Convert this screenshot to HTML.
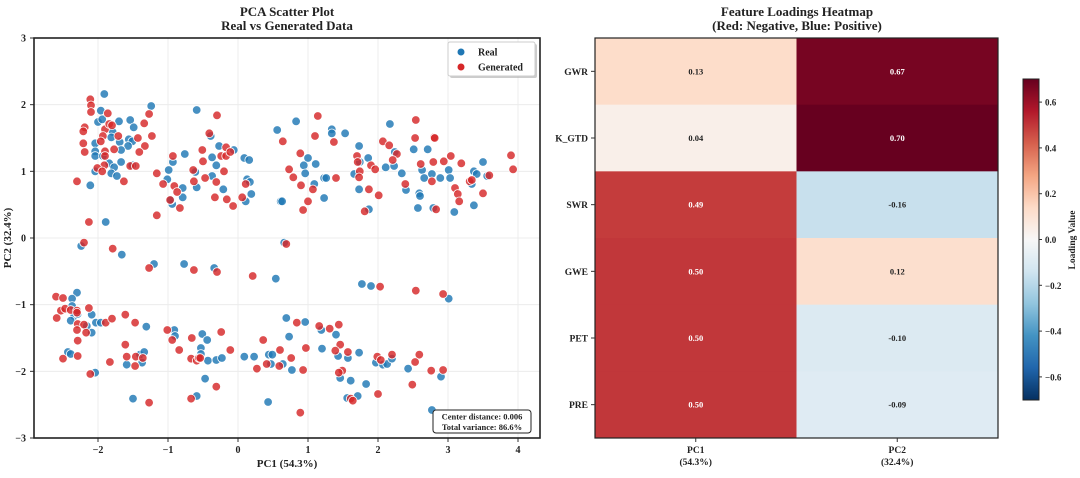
<!DOCTYPE html>
<html><head><meta charset="utf-8">
<style>
body{margin:0;background:#fff;font-family:"Liberation Serif",serif;}
svg text{font-family:"Liberation Serif",serif;font-weight:bold;fill:#222;}
</style></head>
<body>
<svg id="chart" width="1080" height="473" viewBox="0 0 1080 473" xmlns="http://www.w3.org/2000/svg">
<g id="scatter"></g>
<g id="heat"></g>
</svg>
<script>
const realX=[-1.91,-1.96,-2.00,-1.94,-1.70,-1.54,-1.49,-1.24,-0.59,-1.79,-1.81,-1.69,-1.56,-1.51,-1.57,-1.67,-2.04,-2.04,-2.04,-1.93,-1.84,-1.77,-1.67,-1.51,-2.04,-1.81,-1.73,-2.11,-1.89,-2.24,-0.93,-0.76,-0.99,-1.01,-0.79,-0.79,-0.94,-0.96,-0.59,-0.61,-0.37,-0.31,-0.27,-0.39,-0.37,-0.21,-0.06,0.09,0.16,0.13,0.17,0.19,0.11,0.56,0.61,
0.83,1.34,1.34,1.53,1.00,0.94,1.11,0.96,1.23,1.26,1.09,1.23,0.63,1.73,1.86,1.74,1.66,1.73,1.87,2.17,2.24,2.11,2.23,2.34,2.40,2.51,2.71,2.63,2.66,2.77,2.89,3.01,3.03,2.59,2.60,2.57,2.79,3.09,3.50,3.37,3.41,3.34,3.56,3.37,0.66,
-1.66,-1.20,-0.77,-0.34,0.54,-2.30,-2.37,-2.37,-2.34,-2.29,-2.39,-2.09,-2.16,-2.09,-2.03,-1.96,-1.31,-2.43,-2.39,-2.04,-1.59,-1.40,-1.34,-1.37,-0.91,-0.90,-0.51,-0.44,-0.53,-0.53,-0.43,-0.31,-0.23,-0.47,-0.59,-1.50,0.09,0.23,0.44,0.49,0.47,0.43,
1.77,1.90,3.01,0.69,0.96,1.19,1.40,0.73,1.20,1.43,1.57,1.73,0.64,0.77,1.46,1.61,1.83,1.97,2.07,2.13,2.20,2.43,2.90,1.71,1.56,2.77];
const realY=[2.16,1.91,1.74,1.78,1.75,1.77,1.66,1.98,1.92,1.59,1.51,1.44,1.48,1.45,1.38,1.32,1.42,1.30,1.23,1.23,1.12,1.06,1.14,1.09,1.00,0.97,0.93,0.79,0.24,-0.12,1.14,1.26,1.02,0.88,0.75,0.61,0.51,0.57,0.76,0.99,1.21,1.09,1.38,1.53,0.93,0.73,1.32,1.20,1.17,0.88,0.84,0.66,0.55,1.62,0.55,
1.75,1.63,1.57,1.57,1.20,1.09,1.11,0.97,0.90,0.90,0.81,0.60,0.55,1.38,1.20,1.14,0.96,0.73,0.43,1.71,1.29,1.06,1.08,0.97,0.72,1.33,1.33,1.02,0.90,0.96,0.90,1.02,0.90,0.67,0.63,0.45,0.45,0.39,1.14,1.00,0.96,0.81,0.93,0.49,-0.07,
-0.25,-0.39,-0.39,-0.45,-0.61,-0.82,-0.91,-1.02,-1.17,-1.14,-1.24,-1.15,-1.32,-1.42,-1.27,-1.27,-1.33,-1.71,-1.74,-2.02,-1.90,-1.75,-1.71,-1.87,-1.38,-1.47,-1.44,-1.53,-1.65,-1.74,-1.84,-1.83,-1.80,-2.11,-2.37,-2.41,-1.78,-1.78,-1.75,-1.75,-1.89,-2.46,
-0.69,-0.72,-0.91,-1.20,-1.26,-1.38,-1.45,-1.48,-1.66,-1.77,-1.80,-1.72,-1.89,-1.98,-2.10,-2.14,-2.19,-1.87,-1.90,-1.89,-1.81,-1.96,-2.08,-2.37,-2.40,-2.58];
const genX=[-2.11,-2.10,-2.10,-1.86,-2.19,-2.21,-1.90,-1.84,-1.80,-1.93,-1.96,-2.21,-2.19,-1.90,-1.90,-1.77,-1.71,-1.43,-1.34,-1.27,-1.23,-1.33,-1.41,-1.54,-1.46,-1.91,-2.01,-1.94,-1.63,-2.30,-2.13,-2.20,-1.79,-1.16,-1.07,-0.93,-0.91,-0.87,-0.97,-0.83,-1.16,-0.64,-0.63,-0.51,-0.50,-0.47,-0.41,-0.30,-0.31,-0.33,-0.24,-0.17,-0.17,-0.11,-0.20,-0.16,-0.07,0.06,0.11,0.64,
1.14,1.10,1.37,0.89,0.73,0.79,0.90,1.07,1.00,0.93,1.40,1.70,1.71,1.74,1.73,1.90,1.96,1.87,2.01,1.81,2.07,2.16,2.27,2.21,2.39,2.54,2.53,2.80,2.81,2.61,2.79,2.94,3.04,3.19,2.77,3.10,3.14,3.16,2.83,3.31,3.34,3.59,3.50,3.90,3.93,0.69,
-1.27,-0.63,-0.30,0.21,-2.60,-2.50,-2.53,-2.47,-2.59,-2.39,-2.30,-2.30,-2.13,-2.29,-2.20,-2.17,-2.30,-2.29,-2.29,-2.50,-2.11,-1.89,-1.80,-1.61,-1.47,-1.61,-1.59,-1.46,-1.47,-1.36,-1.83,-1.27,-1.01,-0.94,-0.84,-0.66,-0.67,-0.59,-0.56,-0.54,-0.24,-0.11,-0.31,-0.67,0.36,0.41,0.27,0.59,0.60,
2.03,2.54,2.93,0.84,1.16,1.31,1.44,1.46,1.39,1.57,0.97,0.76,0.93,1.49,1.44,1.99,2.04,2.20,2.59,2.53,2.76,2.93,2.49,2.00,1.61,1.64,0.89];
const genY=[2.08,1.99,1.89,1.87,1.66,1.60,1.63,1.71,1.69,1.53,1.45,1.42,1.29,1.30,1.23,1.33,1.53,1.50,1.72,1.86,1.53,1.38,1.29,1.08,1.08,1.09,1.05,1.00,0.85,0.85,0.24,-0.07,-0.16,0.97,0.81,1.23,0.78,0.69,0.57,0.45,0.34,1.02,0.85,1.32,1.15,0.90,1.57,1.84,0.84,0.61,1.23,1.36,1.23,1.29,1.00,0.58,0.48,0.61,0.81,1.45,
1.83,1.53,1.44,1.27,1.03,0.91,0.79,0.73,0.55,0.42,0.90,1.23,1.14,1.00,0.91,1.09,1.03,0.73,0.64,0.40,1.45,1.39,1.26,1.17,0.81,1.77,1.50,1.51,1.50,1.11,1.14,1.15,1.23,1.12,0.85,0.75,0.66,0.55,0.43,0.85,0.87,0.94,0.67,1.24,1.03,-0.09,
-0.45,-0.48,-0.51,-0.57,-0.88,-0.90,-1.09,-1.06,-1.20,-1.08,-1.09,-1.12,-1.05,-1.29,-1.30,-1.42,-1.38,-1.54,-1.77,-1.81,-2.04,-1.27,-1.21,-1.15,-1.27,-1.60,-1.78,-1.78,-1.92,-1.80,-1.86,-2.47,-1.38,-1.53,-1.68,-1.50,-1.81,-1.84,-1.80,-1.80,-1.41,-1.68,-2.23,-2.41,-1.53,-1.89,-1.96,-1.92,-1.68,
-0.73,-0.79,-0.84,-1.27,-1.32,-1.36,-1.30,-1.60,-1.69,-1.71,-1.65,-1.80,-1.98,-1.99,-2.02,-1.78,-1.83,-1.75,-1.75,-1.86,-1.99,-1.98,-2.20,-2.34,-2.41,-2.44,-2.62];
const xTicks=[-2,-1,0,1,2,3,4];
const yTicks=[-3,-2,-1,0,1,2,3];
const features=["GWR","K_GTD","SWR","GWE","PET","PRE"];
const pcLabels=["PC1","PC2"];
const pcVar=["(54.3%)","(32.4%)"];
const pc1Load=[0.13,0.04,0.49,0.50,0.50,0.50];
const pc2Load=[0.67,0.70,-0.16,0.12,-0.10,-0.09];
const cbTicks=[-0.6,-0.4,-0.2,0.0,0.2,0.4,0.6];

const NS="http://www.w3.org/2000/svg";
function mk(tag,attrs,parent,txt){const e=document.createElementNS(NS,tag);for(const k in attrs)e.setAttribute(k,attrs[k]);if(txt!==undefined)e.textContent=txt;parent.appendChild(e);return e;}
const S=document.getElementById('scatter');
const L=34,R=540,T=38,B=438;
const xs=v=>238+v*70;
const ys=v=>238+(-v)*(400/6);
xTicks.forEach(t=>{const l=mk('line',{x1:xs(t),x2:xs(t),y1:T,y2:B,stroke:'#ececec','stroke-width':1},S);

mk('line',{x1:xs(t),x2:xs(t),y1:B,y2:B+4,stroke:'#333'},S);
const tx=mk('text',{x:xs(t),y:B+15,'text-anchor':'middle','font-size':10},S,(t<0?'\u2212':'')+Math.abs(t));
});
yTicks.forEach(t=>{const l=mk('line',{x1:L,x2:R,y1:ys(t),y2:ys(t),stroke:'#ececec','stroke-width':1},S);

mk('line',{x1:L-4,x2:L,y1:ys(t),y2:ys(t),stroke:'#333'},S);
const tx=mk('text',{x:L-8,y:ys(t)+3.5,'text-anchor':'end','font-size':10},S,(t<0?'\u2212':'')+Math.abs(t));
});
function pts(X,Y,col,name){X.forEach((x,i)=>{const c=mk('circle',{cx:xs(x),cy:ys(Y[i]),r:4.3,fill:col,'fill-opacity':0.82,stroke:'#fff','stroke-width':0.8},S);
});}
pts(realX,realY,'#1f77b4','real-point');
pts(genX,genY,'#d62728','generated-point');
const fr=mk('rect',{x:L,y:T,width:R-L,height:B-T,fill:'none',stroke:'#222','stroke-width':1.6},S);

let t1=mk('text',{x:287,y:16,'text-anchor':'middle','font-size':13},S,'PCA Scatter Plot');

let t2=mk('text',{x:287,y:30,'text-anchor':'middle','font-size':13},S,'Real vs Generated Data');

let xl=mk('text',{x:287,y:467,'text-anchor':'middle','font-size':11},S,'PC1 (54.3%)');

let yl=mk('text',{x:0,y:0,'text-anchor':'middle','font-size':11,transform:'translate(11,238) rotate(-90)'},S,'PC2 (32.4%)');

const lg=mk('g',{},S);
mk('rect',{x:450,y:44,width:87,height:34,fill:'#999',opacity:0.5,rx:2},lg);
mk('rect',{x:448,y:42,width:87,height:34,fill:'#fff',stroke:'#ccc',rx:2},lg);
mk('circle',{cx:461,cy:52,r:3.5,fill:'#1f77b4'},lg);
let lr=mk('text',{x:478,y:55.5,'font-size':10},lg,'Real');
mk('circle',{cx:461,cy:67,r:3.5,fill:'#d62728'},lg);
let lgn=mk('text',{x:478,y:70.5,'font-size':10},lg,'Generated');
const sb=mk('g',{},S);
mk('rect',{x:433,y:410,width:98,height:23,fill:'#fff',stroke:'#222','stroke-width':1,rx:3},sb);
mk('text',{x:482,y:419.5,'text-anchor':'middle','font-size':8.5},sb,'Center distance: 0.006');
mk('text',{x:482,y:430,'text-anchor':'middle','font-size':8.5},sb,'Total variance: 86.6%');

const H=document.getElementById('heat');
const stops=['#053061','#2166ac','#4393c3','#92c5de','#d1e5f0','#f7f7f7','#fddbc7','#f4a582','#d6604d','#b2182b','#67001f'];
const VM=0.7;
function hex(h){return [1,3,5].map(i=>parseInt(h.substr(i,2),16));}
function cmap(v){let t=(v+VM)/(2*VM);t=Math.max(0,Math.min(1,t))*10;const i=Math.min(9,Math.floor(t)),f=t-i;const a=hex(stops[i]),b=hex(stops[i+1]);return 'rgb('+a.map((x,k)=>Math.round(x+(b[k]-x)*f)).join(',')+')';}
const HX=595,HW=403,HT=38,HH=400,cw=HW/2,rh=HH/6;
[pc1Load,pc2Load].forEach((col,j)=>{col.forEach((v,i)=>{
const r=mk('rect',{x:HX+j*cw,y:HT+i*rh,width:cw+0.5,height:rh+0.5,fill:cmap(v)},H);

const tx=mk('text',{x:HX+j*cw+cw/2,y:HT+i*rh+rh/2+3,'text-anchor':'middle','font-size':8.5,style:'fill:'+(Math.abs(v)>0.4?'#fff':'#222')},H,v.toFixed(2));
});});
mk('rect',{x:HX,y:HT,width:HW,height:HH,fill:'none',stroke:'#222','stroke-width':1.2},H);
features.forEach((f,i)=>{mk('line',{x1:HX-4,x2:HX,y1:HT+i*rh+rh/2,y2:HT+i*rh+rh/2,stroke:'#333'},H);
const tx=mk('text',{x:HX-7,y:HT+i*rh+rh/2+3.5,'text-anchor':'end','font-size':9.5},H,f);
});
pcLabels.forEach((p,j)=>{const cx=HX+j*cw+cw/2;mk('line',{x1:cx,x2:cx,y1:HT+HH,y2:HT+HH+4,stroke:'#333'},H);
const a=mk('text',{x:cx,y:453,'text-anchor':'middle','font-size':9.5},H,p);
const b=mk('text',{x:cx,y:465,'text-anchor':'middle','font-size':9.5},H,pcVar[j]);});
let h1=mk('text',{x:797,y:16,'text-anchor':'middle','font-size':13},H,'Feature Loadings Heatmap');

let h2=mk('text',{x:797,y:30,'text-anchor':'middle','font-size':13},H,'(Red: Negative, Blue: Positive)');

const CB=mk('g',{},H);
const cbT=79,cbB=400,cbX=1023,cbW=16;const cy=v=>239.5-v*229;
for(let y=cbT;y<cbB;y++){const v=(239.5-(y+0.5))/229;mk('rect',{x:cbX,y:y,width:cbW,height:1.2,fill:cmap(v)},CB);}
mk('rect',{x:cbX,y:cbT,width:cbW,height:cbB-cbT,fill:'none',stroke:'#222'},CB);
cbTicks.forEach(t=>{mk('line',{x1:cbX+cbW,x2:cbX+cbW+3,y1:cy(t),y2:cy(t),stroke:'#333'},CB);
const tx=mk('text',{x:cbX+cbW+6,y:cy(t)+3.5,'font-size':9},CB,(t<0?'\u2212':'')+Math.abs(t).toFixed(1));
});
let cl=mk('text',{x:0,y:0,'text-anchor':'middle','font-size':9.5,transform:'translate(1075,240) rotate(-90)'},CB,'Loading Value');

</script>
</body></html>
